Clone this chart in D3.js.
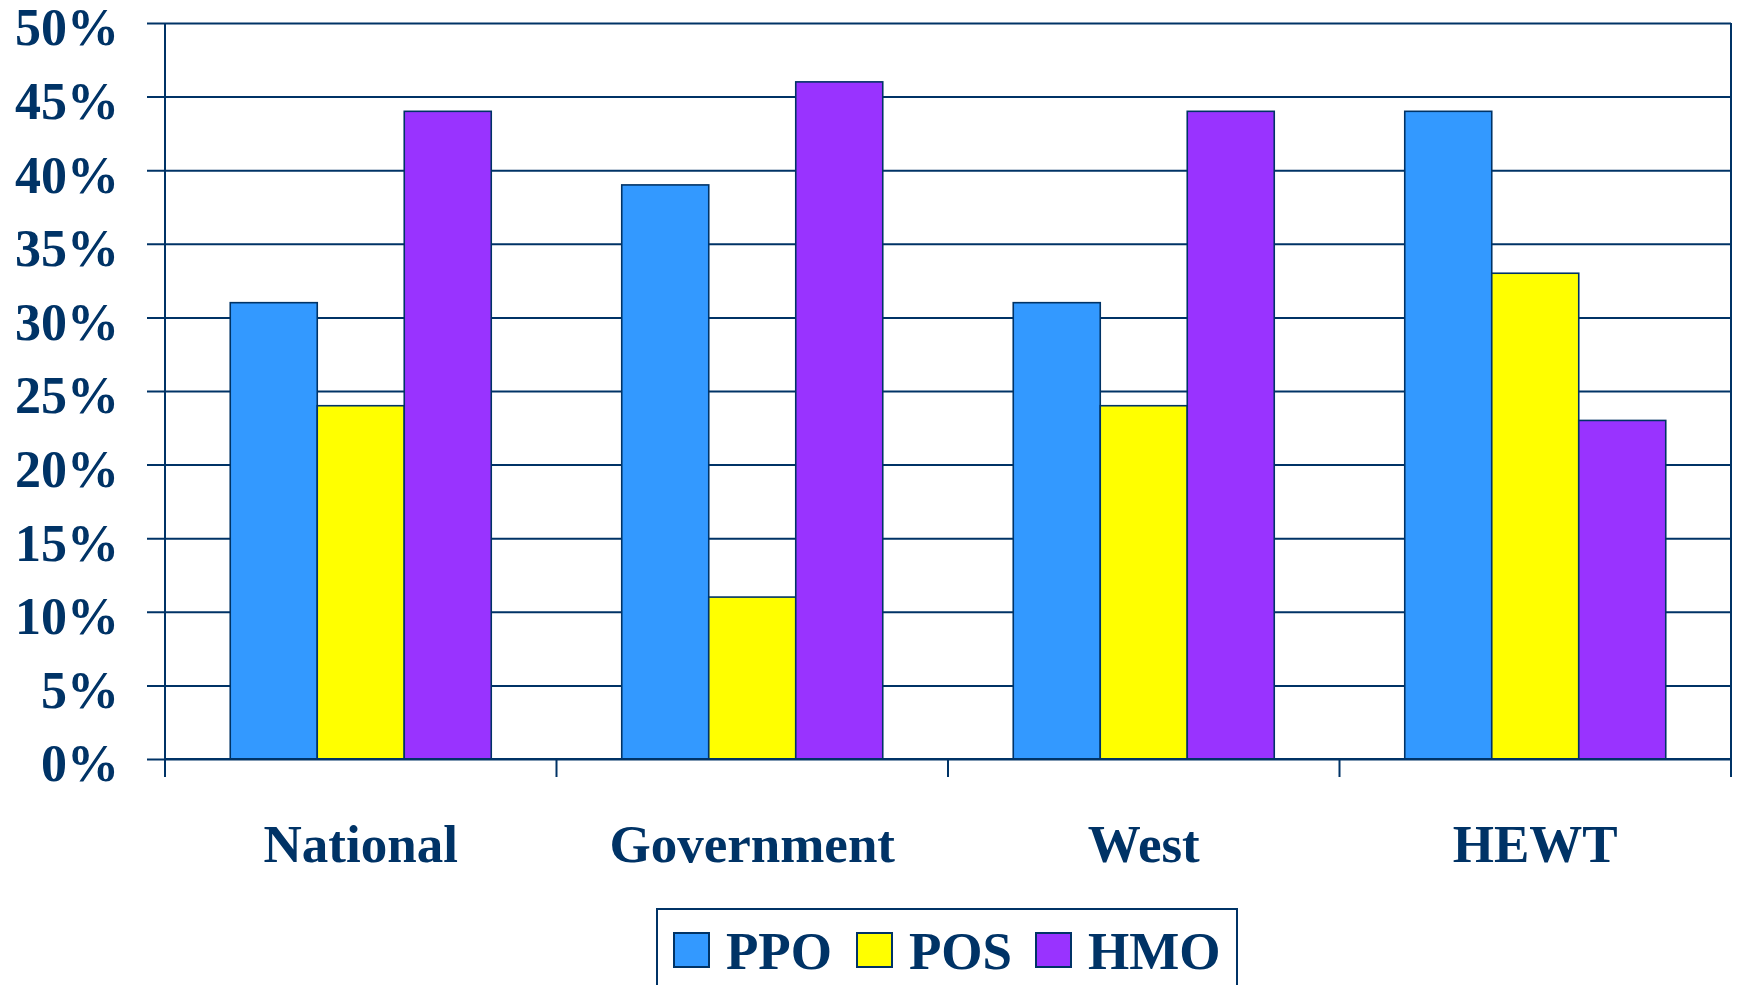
<!DOCTYPE html>
<html><head><meta charset="utf-8">
<script src="https://cdn.jsdelivr.net/npm/d3@7"></script>
<style>
html,body{margin:0;padding:0;background:#fff;overflow:hidden;}
text{font-family:"Liberation Serif","Times New Roman",serif;font-weight:bold;fill:#003366;}
</style></head>
<body>
<svg id="c" width="1737" height="985"></svg>
<script>
const categories = ["National","Government","West","HEWT"];
const seriesNames = ["PPO","POS","HMO"];
const ppoValues = [31,39,31,44];
const posValues = [24,11,24,33];
const hmoValues = [44,46,44,23];
const seriesColors = ["#3399FF","#FFFF00","#9933FF"];
const yTicks = [0,5,10,15,20,25,30,35,40,45,50];

const navy = "#003366";
const svg = d3.select("#c");
const L = 165, R = 1731, T = 23, B = 759;

const x0 = d3.scaleBand().domain(categories).range([L,R]).paddingInner(0).paddingOuter(0);
const x1 = d3.scaleBand().domain(seriesNames).range([0,x0.bandwidth()]).paddingInner(0).paddingOuter(0.75);
const y = d3.scaleLinear().domain([0,50]).range([B,T]);
const color = d3.scaleOrdinal().domain(seriesNames).range(seriesColors);

const values = {PPO:ppoValues, POS:posValues, HMO:hmoValues};

// gridlines + y axis labels via axis
const yAxis = d3.axisLeft(y).tickValues(yTicks).tickFormat(d=>d+"%").tickSize(-(R-147)).tickPadding(28);
const gy = svg.append("g").attr("transform",`translate(${147},0)`).call(yAxis);
gy.select(".domain").remove();
gy.selectAll(".tick line").attr("stroke",navy).attr("stroke-width",2).attr("x1",0).attr("x2",R-147);
gy.selectAll(".tick text").attr("font-size",52).attr("fill",navy).attr("dy","0.42em")
  .style("font-family","'Liberation Serif','Times New Roman',serif").style("font-weight","bold");

// right border
svg.append("line").attr("x1",R).attr("x2",R).attr("y1",T).attr("y2",B).attr("stroke",navy).attr("stroke-width",2);

// bars
const g = svg.append("g");
categories.forEach((c,i)=>{
  seriesNames.forEach(s=>{
    const v = values[s][i];
    g.append("rect")
      .attr("x",x0(c)+x1(s))
      .attr("y",y(v))
      .attr("width",x1.bandwidth())
      .attr("height",y(0)-y(v))
      .attr("fill",color(s))
      .attr("stroke",navy).attr("stroke-width",1.6);
  });
});

// y axis line
svg.append("line").attr("x1",L).attr("x2",L).attr("y1",T).attr("y2",777).attr("stroke",navy).attr("stroke-width",2);
// x axis line
svg.append("line").attr("x1",L).attr("x2",R).attr("y1",B).attr("y2",B).attr("stroke",navy).attr("stroke-width",2);
// x ticks at band boundaries
const bounds = categories.map(c=>x0(c)).concat([x0(categories[categories.length-1])+x0.bandwidth()]);
svg.selectAll(".xt").data(bounds).enter().append("line")
  .attr("x1",d=>d).attr("x2",d=>d).attr("y1",B).attr("y2",777).attr("stroke",navy).attr("stroke-width",2);

// category labels
svg.selectAll(".cl").data(categories).enter().append("text")
  .attr("x",d=>x0(d)+x0.bandwidth()/2).attr("y",862)
  .attr("text-anchor","middle").attr("font-size",53).text(d=>d);

// legend
const lg = svg.append("g");
lg.append("rect").attr("x",657).attr("y",909).attr("width",580).attr("height",120)
  .attr("fill","#fff").attr("stroke",navy).attr("stroke-width",2);
const legendX = [674, 857, 1036];
seriesNames.forEach((s,i)=>{
  lg.append("rect").attr("x",legendX[i]).attr("y",933).attr("width",35).attr("height",34)
    .attr("fill",color(s)).attr("stroke",navy).attr("stroke-width",2);
  lg.append("text").attr("x",legendX[i]+52).attr("y",969).attr("font-size",53).text(s);
});
</script>
</body></html>
